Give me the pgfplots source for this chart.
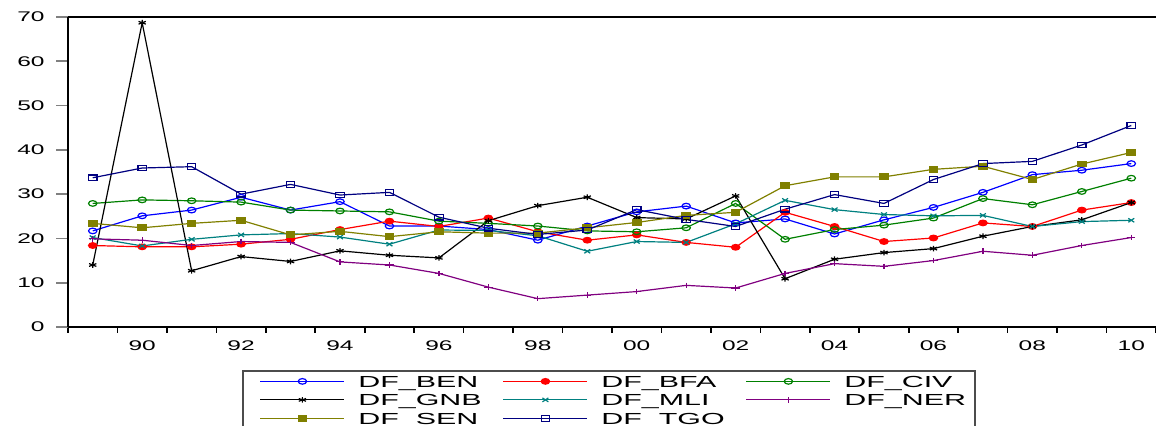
\documentclass[border=0pt]{standalone}
\usepackage{fontspec}
\setmainfont{Liberation Sans}
\newfontfamily\tickfont[FakeStretch=1.75]{Liberation Sans}
\newfontfamily\legfont[FakeStretch=1.9]{Liberation Sans}
\usepackage{pgfplots}
\pgfplotsset{compat=1.18}
\definecolor{cBEN}{RGB}{0,0,255}
\definecolor{cBFA}{RGB}{255,0,0}
\definecolor{cCIV}{RGB}{0,128,0}
\definecolor{cGNB}{RGB}{0,0,0}
\definecolor{cMLI}{RGB}{0,128,128}
\definecolor{cNER}{RGB}{128,0,128}
\definecolor{cSEN}{RGB}{128,128,0}
\definecolor{cTGO}{RGB}{0,0,128}
\newcommand{\legtxt}[1]{\makebox[79.5pt][l]{\hspace{7pt}\legfont\fontsize{8}{9}\selectfont DF\_#1}}
\begin{document}
\begin{tikzpicture}
\begin{axis}[name=ax, scale only axis, width=544pt, height=155pt,
 xmin=1988.5, xmax=2010.5, ymin=0, ymax=70,
 axis x line*=bottom, axis y line*=left,
 axis line style={black, line width=0.8pt},
 tick align=outside,
 xtick={1990,1992,...,2010},
 xticklabels={90,92,94,96,98,00,02,04,06,08,10},
 major x tick style={draw=none},
 minor xtick={1988.5,1989.5,1990.5,1991.5,1992.5,1993.5,1994.5,1995.5,1996.5,1997.5,1998.5,1999.5,2000.5,2001.5,2002.5,2003.5,2004.5,2005.5,2006.5,2007.5,2008.5,2009.5,2010.5},
 minor x tick style={black, line width=0.8pt},
 minor tick length=3pt,
 ytick={0,10,...,70},
 major y tick style={gray, line width=0.8pt},
 major tick length=6pt,
 ticklabel style={font=\tickfont\fontsize{7}{8}\selectfont},
 /pgf/number format/assume math mode=true,
 yticklabel style={inner sep=0pt, xshift=-5.5pt},
 xticklabel style={inner sep=0pt, yshift=-0.5pt},
 legend columns=3, legend cell align=left,
 legend style={draw=none, fill=none, at={(axis description cs:0.17647,-0.1556)}, anchor=north west,
   inner sep=0pt, row sep=3.5pt, column sep=0pt,
   nodes={inner sep=0pt, text height=5.75pt, text depth=0pt}},
 legend image code/.code={\pgfpathrectangle{\pgfpoint{0pt}{-1pt}}{\pgfpoint{42pt}{2pt}}\pgfusepath{use as bounding box}\draw[mark repeat=2,mark phase=2] plot coordinates {(0pt,0pt) (21pt,0pt) (42pt,0pt)};},
 every axis plot/.append style={line width=0.6pt, mark size=1.4pt},
]
\addplot[cBEN, mark=o, mark options={xscale=1.5, fill=white}] coordinates {
(1989,21.7)(1990,25.1)(1991,26.4)(1992,29.3)(1993,26.4)(1994,28.3)(1995,22.8)(1996,22.8)(1997,22.0)(1998,19.6)(1999,22.8)(2000,26.0)(2001,27.3)(2002,23.5)(2003,24.4)(2004,21.0)(2005,24.2)(2006,27.0)(2007,30.4)(2008,34.4)(2009,35.4)(2010,36.9)};
\addlegendentry{\legtxt{BEN}}
\addplot[cBFA, mark=*, mark options={xscale=1.5}] coordinates {
(1989,18.4)(1990,18.1)(1991,18.1)(1992,18.7)(1993,19.8)(1994,22.0)(1995,23.9)(1996,22.7)(1997,24.6)(1998,21.5)(1999,19.6)(2000,20.8)(2001,19.1)(2002,18.0)(2003,25.9)(2004,22.7)(2005,19.3)(2006,20.1)(2007,23.5)(2008,22.7)(2009,26.4)(2010,28.1)};
\addlegendentry{\legtxt{BFA}}
\addplot[cCIV, mark=o, mark options={xscale=1.5, fill=white}] coordinates {
(1989,27.9)(1990,28.7)(1991,28.5)(1992,28.2)(1993,26.4)(1994,26.2)(1995,26.0)(1996,23.9)(1997,23.4)(1998,22.8)(1999,21.7)(2000,21.5)(2001,22.4)(2002,27.9)(2003,19.8)(2004,22.0)(2005,23.0)(2006,24.6)(2007,29.0)(2008,27.6)(2009,30.6)(2010,33.6)};
\addlegendentry{\legtxt{CIV}}
\addplot[cGNB, mark=asterisk, mark options={xscale=1.5}] coordinates {
(1989,14.0)(1990,68.7)(1991,12.7)(1992,15.9)(1993,14.8)(1994,17.2)(1995,16.2)(1996,15.6)(1997,24.0)(1998,27.4)(1999,29.3)(2000,24.7)(2001,24.4)(2002,29.6)(2003,10.9)(2004,15.3)(2005,16.8)(2006,17.7)(2007,20.5)(2008,22.7)(2009,24.2)(2010,28.1)};
\addlegendentry{\legtxt{GNB}}
\addplot[cMLI, mark=x, mark options={xscale=1.5}] coordinates {
(1989,20.2)(1990,18.3)(1991,19.8)(1992,20.8)(1993,21.1)(1994,20.3)(1995,18.7)(1996,21.9)(1997,21.8)(1998,20.6)(1999,17.1)(2000,19.3)(2001,19.1)(2002,23.3)(2003,28.6)(2004,26.5)(2005,25.4)(2006,25.1)(2007,25.2)(2008,22.7)(2009,23.8)(2010,24.1)};
\addlegendentry{\legtxt{MLI}}
\addplot[cNER, mark=+, mark options={xscale=1.5}] coordinates {
(1989,19.9)(1990,19.6)(1991,18.4)(1992,19.3)(1993,19.1)(1994,14.7)(1995,14.0)(1996,12.1)(1997,9.0)(1998,6.4)(1999,7.2)(2000,8.0)(2001,9.4)(2002,8.8)(2003,12.1)(2004,14.3)(2005,13.7)(2006,15.0)(2007,17.1)(2008,16.2)(2009,18.4)(2010,20.2)};
\addlegendentry{\legtxt{NER}}
\addplot[cSEN, mark=square*, mark options={xscale=1.5}] coordinates {
(1989,23.4)(1990,22.4)(1991,23.4)(1992,24.1)(1993,20.8)(1994,21.6)(1995,20.4)(1996,21.5)(1997,21.2)(1998,21.2)(1999,22.4)(2000,23.6)(2001,25.2)(2002,25.9)(2003,31.9)(2004,33.9)(2005,33.9)(2006,35.6)(2007,36.3)(2008,33.3)(2009,36.8)(2010,39.4)};
\addlegendentry{\legtxt{SEN}}
\addplot[cTGO, mark=square, mark options={xscale=1.5, fill=white}] coordinates {
(1989,33.7)(1990,35.9)(1991,36.2)(1992,30.0)(1993,32.2)(1994,29.8)(1995,30.4)(1996,24.8)(1997,22.3)(1998,20.9)(1999,21.9)(2000,26.5)(2001,24.3)(2002,22.7)(2003,26.6)(2004,29.9)(2005,27.9)(2006,33.3)(2007,36.9)(2008,37.4)(2009,41.1)(2010,45.5)};
\addlegendentry{\legtxt{TGO}}
\end{axis}
\draw[black, line width=0.8pt] (ax.north west) -- (ax.north east);
\draw[gray!60!black, line width=0.6pt] ([xshift=87.5pt,yshift=-22pt]ax.south west) rectangle ([xshift=453.5pt,yshift=-80pt]ax.south west);
\pgfresetboundingbox
\useasboundingbox ([xshift=-34pt,yshift=-49.5pt]ax.south west) rectangle ([yshift=8.5pt]ax.north east);
\end{tikzpicture}
\end{document}
